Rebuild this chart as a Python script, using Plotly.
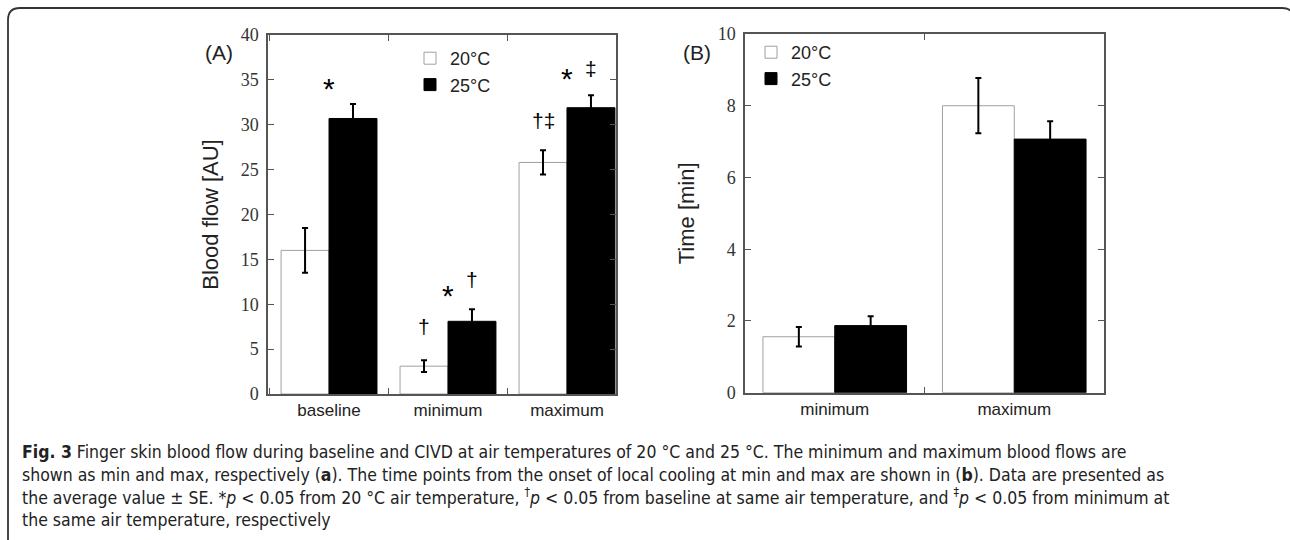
import plotly.graph_objects as go

W, H = 1290, 540

# ---------------- data ----------------
cats_a = ["baseline", "minimum", "maximum"]
a_20 = [16.0, 3.1, 25.8]
a_20_se = [2.5, 0.65, 1.35]
a_25 = [30.7, 8.1, 31.9]
a_25_se = [1.6, 1.35, 1.4]

cats_b = ["minimum", "maximum"]
b_20 = [1.56, 8.0]
b_20_se = [0.27, 0.77]
b_25 = [1.87, 7.07]
b_25_se = [0.26, 0.50]

series_names = ["20°C", "25°C"]

# significance marks for panel A: (category index, side, y value, text)
sig_a = [
    (0, 0.0, 34.5, "*"),
    (1, -0.2, 7.5, "†"),
    (1, 0.0, 11.4, "*"),
    (1, 0.2, 12.8, "†"),
    (2, -0.2, 30.5, "†‡"),
    (2, 0.0, 35.6, "*"),
    (2, 0.2, 36.3, "‡"),
]

caption_lines = [
    "<b>Fig. 3</b> Finger skin blood flow during baseline and CIVD at air temperatures of 20 °C and 25 °C. The minimum and maximum blood flows are",
    "shown as min and max, respectively (<b>a</b>). The time points from the onset of local cooling at min and max are shown in (<b>b</b>). Data are presented as",
    "the average value ± SE. *<i>p</i> &lt; 0.05 from 20 °C air temperature, <sup>†</sup><i>p</i> &lt; 0.05 from baseline at same air temperature, and <sup>‡</sup><i>p</i> &lt; 0.05 from minimum at",
    "the same air temperature, respectively",
]

# ---------------- helpers ----------------
def px(x):
    return x / W

def py(y):
    return 1 - y / H

SANS = "Arial, Liberation Sans, sans-serif"
SERIF = "Liberation Serif, Times New Roman, serif"
SPINE = "#555555"

fig = go.Figure()

bw_a = 0.403
bw_b = 0.40
err = dict(type="data", color="black", thickness=2, width=3)

fig.add_trace(go.Bar(
    x=cats_a, y=a_20, name=series_names[0],
    error_y=dict(err, array=a_20_se),
    marker=dict(color="white", line=dict(color="#a0a0a0", width=1)),
    width=bw_a, offset=-bw_a, xaxis="x", yaxis="y", legend="legend"))
fig.add_trace(go.Bar(
    x=cats_a, y=a_25, name=series_names[1],
    error_y=dict(err, array=a_25_se),
    marker=dict(color="black", line=dict(color="black", width=1)),
    width=bw_a, offset=0, xaxis="x", yaxis="y", legend="legend"))

fig.add_trace(go.Bar(
    x=cats_b, y=b_20, name=series_names[0],
    error_y=dict(err, array=b_20_se),
    marker=dict(color="white", line=dict(color="#a0a0a0", width=1)),
    width=bw_b, offset=-bw_b, xaxis="x2", yaxis="y2", legend="legend2"))
fig.add_trace(go.Bar(
    x=cats_b, y=b_25, name=series_names[1],
    error_y=dict(err, array=b_25_se),
    marker=dict(color="black", line=dict(color="black", width=1)),
    width=bw_b, offset=0, xaxis="x2", yaxis="y2", legend="legend2"))

xcommon = dict(type="category", showline=True, linecolor=SPINE, linewidth=1.5,
               mirror="ticks", ticks="inside", tickson="boundaries", ticklen=6,
               tickcolor=SPINE, tickwidth=1.2, showgrid=False, zeroline=False,
               automargin=False,
               tickfont=dict(family=SANS, size=17, color="#222"))
ycommon = dict(showline=True, linecolor=SPINE, linewidth=1.5, mirror="ticks",
               ticks="inside", ticklen=6, tickcolor=SPINE, tickwidth=1.2,
               showgrid=False, zeroline=False, ticklabelstandoff=4, automargin=False,
               tickfont=dict(family=SERIF, size=18, color="#333"))

fig.update_layout(
    template="none",
    width=W, height=H, autosize=False,
    margin=dict(l=0, r=0, t=0, b=0, pad=0),
    paper_bgcolor="white", plot_bgcolor="white",
    barmode="overlay", showlegend=True,
    xaxis=dict(xcommon, domain=[px(268), px(616)], range=[-0.513, 2.412], anchor="y"),
    yaxis=dict(ycommon, domain=[py(394), py(35)], range=[0, 40], dtick=5, anchor="x",
               title=dict(text="Blood flow [AU]", font=dict(family=SANS, size=22, color="#222"),
                          standoff=16)),
    xaxis2=dict(xcommon, domain=[px(745), px(1104)], range=[-0.5, 1.5], anchor="y2"),
    yaxis2=dict(ycommon, domain=[py(392.7), py(34)], range=[0, 10], dtick=2, anchor="x2",
                title=dict(text="Time [min]", font=dict(family=SANS, size=22, color="#222"),
                           standoff=17)),
    legend=dict(x=px(410), y=py(40), xanchor="left", yanchor="top", tracegroupgap=0,
                bgcolor="rgba(0,0,0,0)", font=dict(family=SANS, size=18, color="#222")),
    legend2=dict(x=px(751), y=py(34), xanchor="left", yanchor="top", tracegroupgap=0,
                 bgcolor="rgba(0,0,0,0)", font=dict(family=SANS, size=18, color="#222")),
)

ann = []
for ci, side, yv, txt in sig_a:
    ann.append(dict(x=ci + side, y=yv, xref="x", yref="y", text=txt, showarrow=False,
                    font=dict(family=SANS, size=30 if txt == "*" else 21, color="black"),
                    xanchor="center", yanchor="middle",
                    yshift=-4 if txt == "*" else 0))

ann.append(dict(x=px(219), y=py(52), xref="paper", yref="paper", text="(A)", showarrow=False,
                font=dict(family=SANS, size=21, color="#222"), xanchor="center", yanchor="middle"))
ann.append(dict(x=px(697), y=py(53), xref="paper", yref="paper", text="(B)", showarrow=False,
                font=dict(family=SANS, size=21, color="#222"), xanchor="center", yanchor="middle"))

ann.append(dict(x=px(20), y=py(440), xref="paper", yref="paper", text="<br>".join(caption_lines),
                showarrow=False, align="left", xanchor="left", yanchor="top",
                font=dict(family="Liberation Sans Narrow, DejaVu Sans Condensed, Arial Narrow, sans-serif",
                          size=17.5, color="#222")))
fig.update_layout(annotations=ann)

# rounded frame around the figure
path = (f"M {px(8)},{py(600)} L {px(8)},{py(20)} Q {px(8)},{py(8)} {px(20)},{py(8)} "
        f"L {px(1282)},{py(8)} Q {px(1294)},{py(8)} {px(1294)},{py(20)} L {px(1294)},{py(600)}")
fig.add_shape(type="path", path=path, xref="paper", yref="paper",
              line=dict(color="#333", width=1.8))

fig.write_html("out.html")
